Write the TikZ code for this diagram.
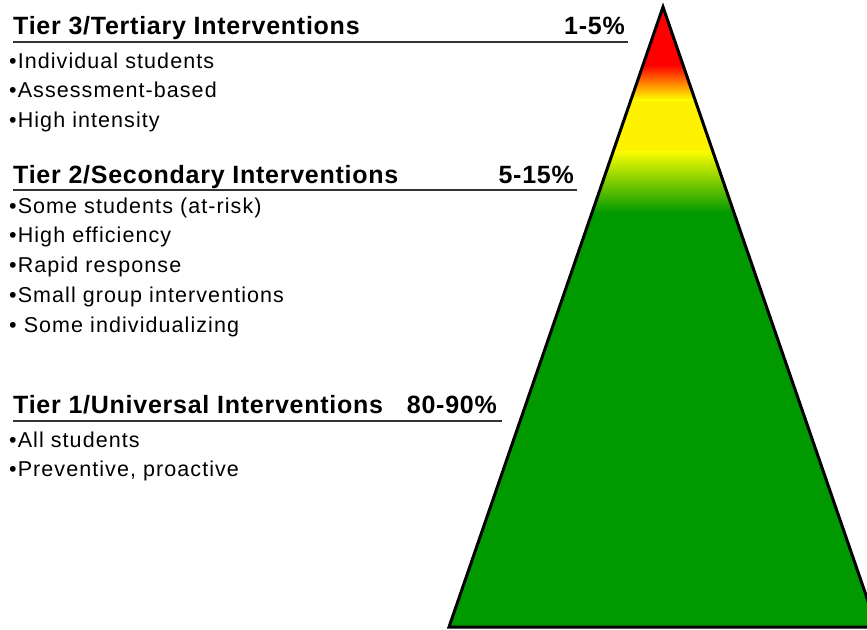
\documentclass[tikz,border=0pt]{standalone}
\usepackage{fontspec}
\setmainfont{Liberation Sans}
\newfontfamily\headfont[LetterSpace=3]{Liberation Sans}
\newfontfamily\itemfont[LetterSpace=5]{Liberation Sans}
\usetikzlibrary{positioning}
\definecolor{tiergreen}{RGB}{0,153,0}
\tikzset{
  heading/.style={anchor=base west, inner sep=0pt, font=\fontsize{25}{30}\headfont\bfseries},
  percent/.style={anchor=base east, inner sep=0pt, font=\fontsize{25}{30}\headfont\bfseries},
  item/.style={anchor=base west, inner sep=0pt, font=\fontsize{21.5}{26}\itemfont},
  headrule/.style={draw=black!80, line width=2pt},
}

\begin{document}
\begin{tikzpicture}[x=1pt, y=-1pt]
    \useasboundingbox (0,0) rectangle (867,629);
    % Pyramid
    \coordinate (apex) at (663,7);
    \coordinate (baseL) at (449,627);
    \coordinate (baseR) at (877,627);
    \begin{scope}
        \clip (apex) -- (baseL) -- (baseR) -- cycle;
        \fill [tiergreen] (430,212) rectangle (900,640);
        \shade [top color=yellow, bottom color=tiergreen] (430,150) rectangle (900,213);
        \fill [yellow] (430,99) rectangle (900,151);
        \shade [top color=red, bottom color=yellow] (430,65) rectangle (900,100);
        \fill [red] (430,0) rectangle (900,66);
    \end{scope}
    \draw [line width=3pt] (apex) -- (baseL) -- (baseR) -- cycle;

    % Tier 3
    \node [heading] (tier3) at (13,34) {Tier 3/Tertiary Interventions};
    \node [percent] (pct3) at (625,34) {1-5\%};
    \draw [headrule] ([yshift=-8pt]tier3.base west) -- ([xshift=3pt,yshift=-8pt]pct3.base east);
    \node [item] (t3a) at (9,68) {•Individual students};
    \node [item] (t3b) at (9,97.5) {•Assessment-based};
    \node [item] (t3c) at (9,127) {•High intensity};

    % Tier 2
    \node [heading] (tier2) at (13,183) {Tier 2/Secondary Interventions};
    \node [percent] (pct2) at (574,183) {5-15\%};
    \draw [headrule] ([yshift=-7pt]tier2.base west) -- ([xshift=3pt,yshift=-7pt]pct2.base east);
    \node [item] (t2a) at (9,213) {•Some students (at-risk)};
    \node [item] (t2b) at (9,242.8) {•High efficiency};
    \node [item] (t2c) at (9,272.6) {•Rapid response};
    \node [item] (t2d) at (9,302.4) {•Small group interventions};
    \node [item] (t2e) at (9,332.2) {• Some individualizing};

    % Tier 1
    \node [heading] (tier1) at (13,413) {Tier 1/Universal Interventions};
    \node [percent] (pct1) at (497,413) {80-90\%};
    \draw [headrule] ([yshift=-8pt]tier1.base west) -- ([xshift=5pt,yshift=-8pt]pct1.base east);
    \node [item] (t1a) at (9,447) {•All students};
    \node [item] (t1b) at (9,476) {•Preventive, proactive};
\end{tikzpicture}
\end{document}
